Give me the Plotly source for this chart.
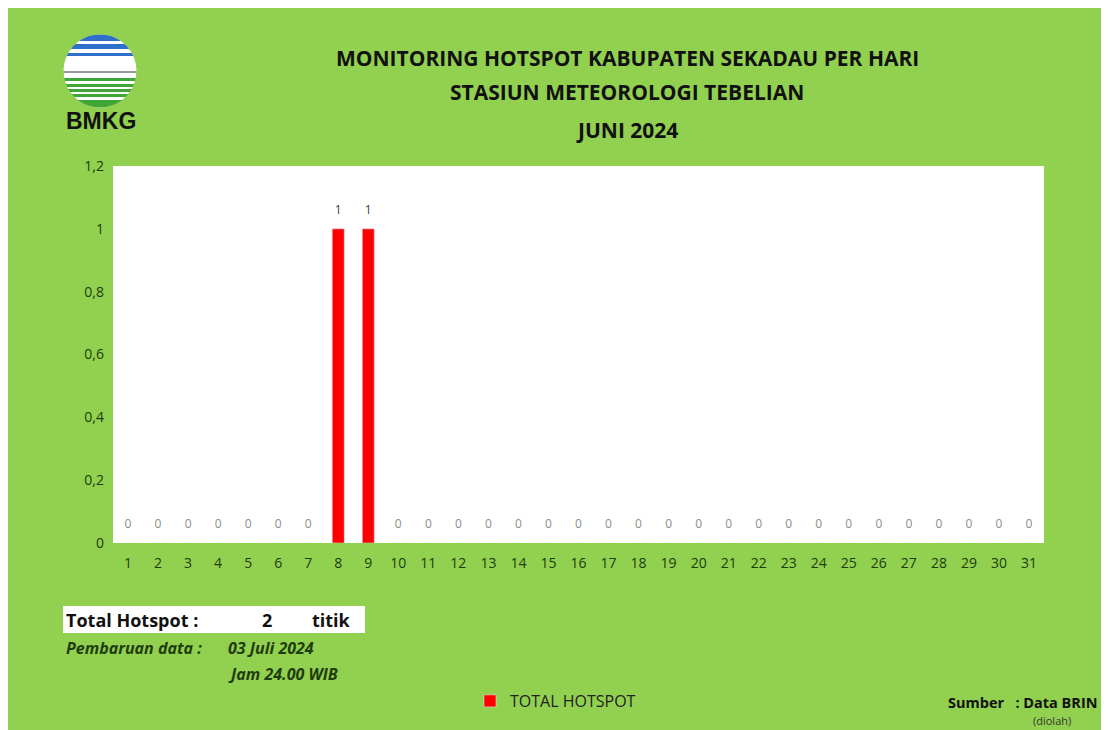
import math
import plotly.graph_objects as go

days = [str(d) for d in range(1, 32)]
hotspot = [0, 0, 0, 0, 0, 0, 0, 1, 1] + [0] * 22
y_ticks = [0, 0.2, 0.4, 0.6, 0.8, 1, 1.2]

title_lines = [
    "MONITORING HOTSPOT KABUPATEN SEKADAU PER HARI",
    "STASIUN METEOROLOGI TEBELIAN",
    "JUNI 2024",
]
total_hotspot = sum(hotspot)

# page has an 8px body margin, so the figure sits at (8, 8) in the screenshot
OFF = 8
W, H = 1109 - OFF, 730 - OFF
L, R, T, B = 113, 1044, 166, 543  # plot area in screenshot pixels
GREEN = "#92D050"
TICK = "#1E3D0C"
FONT = "Open Sans"


def px(x):
    return (x - L) / (R - L)


def py(y):
    return (B - y) / (B - T)


def band(cx, cy, r, y1, y2, n=16):
    """chord band of a circle between pixel rows y1..y2, as paper path"""
    pts = []
    for i in range(n + 1):
        y = y1 + (y2 - y1) * i / n
        w = math.sqrt(max(r * r - (y - cy) ** 2, 0))
        pts.append((cx - w, y))
    for i in range(n, -1, -1):
        y = y1 + (y2 - y1) * i / n
        w = math.sqrt(max(r * r - (y - cy) ** 2, 0))
        pts.append((cx + w, y))
    return "M " + " L ".join(f"{px(a):.5f},{py(b):.5f}" for a, b in pts) + " Z"


fig = go.Figure()

fig.add_trace(
    go.Bar(
        x=days,
        y=hotspot,
        name="TOTAL HOTSPOT",
        width=0.4,
        marker=dict(color="#FF0000"),
        showlegend=True,
    )
)

# data labels, lifted above the bar ends like Excel's "outside end"
fig.add_trace(
    go.Scatter(
        x=days,
        y=hotspot,
        mode="markers+text",
        text=[str(v) for v in hotspot],
        textposition="top center",
        marker=dict(size=17, opacity=0),
        textfont=dict(family=FONT, size=12, color=["#404040" if v else "#8C8C8C" for v in hotspot]),
        showlegend=False,
        hoverinfo="skip",
    )
)

shapes = [
    # total hotspot box
    dict(type="rect", xref="paper", yref="paper", x0=px(63), x1=px(365), y0=py(606), y1=py(633),
         fillcolor="white", line_width=0, layer="above"),
]

# BMKG logo
cx, cy, r = 100, 71, 36.5
shapes.append(dict(type="circle", xref="paper", yref="paper", x0=px(cx - r), x1=px(cx + r),
                   y0=py(cy - r), y1=py(cy + r), fillcolor="white", line_width=0, layer="above"))
for y1, y2, col in [(34.5, 41, "#2E6FC9"), (44, 49, "#2E6FC9"), (53, 56, "#2E6FC9"),
                    (71.5, 72.5, "#333333"), (78, 81, "#3FA535"), (84, 87, "#3FA535"),
                    (89, 92, "#3FA535"), (94, 97, "#3FA535"), (100, 107.5, "#3FA535")]:
    shapes.append(dict(type="path", xref="paper", yref="paper", path=band(cx, cy, r, y1, y2),
                       fillcolor=col, line_width=0, layer="above"))


def note(x, y, text, size=15, color="#111111", xanchor="left", bold=False, italic=False, family=FONT):
    if bold:
        text = f"<b>{text}</b>"
    if italic:
        text = f"<i>{text}</i>"
    return dict(xref="paper", yref="paper", x=px(x), y=py(y), text=text, showarrow=False,
                xanchor=xanchor, yanchor="middle", font=dict(family=family, size=size, color=color))


annotations = [
    note(627, 58, title_lines[0], size=21, xanchor="center", bold=True),
    note(627, 92, title_lines[1], size=21, xanchor="center", bold=True),
    note(627, 130, title_lines[2], size=21, xanchor="center", bold=True),
    note(101, 121, "BMKG", size=23, xanchor="center", bold=True, family="Liberation Sans"),
    note(64, 620, "Total Hotspot :", size=18, bold=True),
    note(267, 620, str(total_hotspot), size=18, xanchor="center", bold=True),
    note(310, 620, "titik", size=18, bold=True),
    note(64, 648, "Pembaruan data :", size=16, color=TICK, bold=True, italic=True),
    note(226, 648, "03 Juli 2024", size=16, color=TICK, bold=True, italic=True),
    note(226, 674, "Jam 24.00 WIB", size=16, color=TICK, bold=True, italic=True),
    note(946, 702, "Sumber&nbsp;&nbsp;&nbsp;: Data BRIN", size=14.5, bold=True),
    note(1052, 720, "(diolah)", size=11, color="#333333", xanchor="center"),
]

fig.update_layout(
    width=W,
    height=H,
    margin=dict(l=L - OFF, r=W - (R - OFF), t=T - OFF, b=H - (B - OFF), pad=0),
    paper_bgcolor=GREEN,
    plot_bgcolor="white",
    separators=",.",
    bargap=0.6,
    shapes=shapes,
    annotations=annotations,
    font=dict(family=FONT, color=TICK),
    legend=dict(
        orientation="h",
        x=px(470),
        y=py(701),
        xanchor="left",
        yanchor="middle",
        bgcolor="rgba(0,0,0,0)",
        font=dict(family=FONT, size=16, color="#222222"),
    ),
    xaxis=dict(
        type="category",
        range=[-0.5, len(days) - 0.5],
        showgrid=False,
        showline=False,
        ticks="",
        tickfont=dict(family=FONT, size=14, color=TICK),
        ticklabelstandoff=10,
    ),
    yaxis=dict(
        range=[0, 1.2],
        tickvals=y_ticks,
        showgrid=False,
        zeroline=False,
        showline=False,
        ticks="",
        tickfont=dict(family=FONT, size=14, color=TICK),
        ticklabelstandoff=8,
    ),
)

fig.write_html("out.html")
